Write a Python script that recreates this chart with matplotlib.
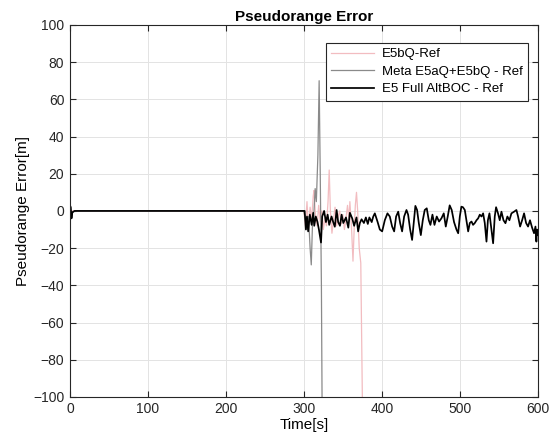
import numpy as np
import matplotlib
matplotlib.use("Agg")
import matplotlib.pyplot as plt

plt.rcParams['font.family'] = ['Liberation Sans', 'DejaVu Sans']

# E5 Full AltBOC - Ref (black)
t_full = [0, 1, 2, 3, 4, 6, 100, 200, 300, 301,
          302.6, 304, 305.5, 307.7, 310, 312, 313.3, 315.3, 317.5, 319.3, 320.5, 322,
          323.5, 326, 328.3, 330.5, 332.5, 335.5, 337.6, 339.7, 342, 344, 346.3, 348.4,
          350.6, 354, 357, 359, 362, 364.5, 367.5, 369.6, 371.8, 374, 377, 379.5, 382,
          384, 387, 389, 391, 394.4, 397.4, 400.4, 403.8, 407.2, 410.2, 413.2, 415.8,
          418.3, 421, 423.5, 426, 428.6, 431.6, 433.7, 436.3, 438.8, 441.4, 443, 445.2,
          447.4, 450, 452.5, 455, 457.6, 460.2, 462.3, 464.9, 467.5, 470.4, 473.4, 476.4,
          479.4, 482, 484.5, 487, 489.6, 492.6, 495.7, 497.9, 500, 502, 504, 506.4, 508.5,
          510.7, 512.8, 515, 517, 519.2, 521.4, 523.5, 525.6, 527.8, 529.9, 532, 534.2,
          536, 538, 540.6, 542.7, 544.8, 546.5, 549, 551.2, 553.4, 556, 558.5, 561,
          563.6, 566.2, 569.6, 572.6, 574.7, 577.3, 579.9, 582.4, 585, 587.5, 590, 592.7,
          595.2, 597, 598.2, 599, 600]
v_full = [3, 2, -4, -1, -0.5, 0, 0, 0, 0, 0,
          -10, -3, -11, -2, -7.5, -1, -8, -3, -6, -10, -13, -17,
          -3, 0, -6, -2, -7.5, -3, -6, -8.5, 0.5, -6, -8, -2, -6.5, -3.5, -9, -1, -4,
          -8, -3.5, -11, -6.5, -4.5, -6.5, -3.5, -7, -3.5, -6, -3, -1.3, -5.7, -10, -11,
          -5, -1.3, -3, -8.4, -11, -3, -0.4, -6.6, -11, -3, 0.5, -2, -10, -15.6, -4, 2.7,
          0.5, -6.5, -13, -5, 0.5, 1.4, -5, -7.5, -2, -7.5, -3, -5.7, -4, -1.3, -8.4,
          -3, 3, 0.5, -6, -10, -12, -3, 2.3, 2, 0.5, -5, -11, -6.5, -5.7, -7.5, -6.5,
          -5, -4, -2, -3, -1.3, -6.5, -16.5, -5, -1.3, -10, -17.4, -3, 2, -1.3, -5,
          -0.4, -5, -6.6, -3, -5, -1.3, -0.4, 0.5, -3, -8.4, -5, -1.3, -6.5, -8.4, -5,
          -9, -12, -8.4, -16.5, -10, -13]

# Meta E5aQ+E5bQ - Ref (grey)
t_meta = [0, 1, 2, 3, 4, 6, 100, 200, 300, 302, 304, 306, 308, 309.5, 311, 313,
          314.5, 316, 318, 319.6, 321, 322.5, 324]
v_meta = [3, 2, -4, -1, -0.5, 0, 0, 0, 0, -5, -10, -3, -20, -29, -8, 0,
          12, 5, 30, 70, 20, -40, -150]

# E5bQ-Ref (pink)
t_e5bq = [0, 6, 100, 200, 300, 302, 304, 306, 308, 310, 312, 313, 315, 317, 319,
          321, 323, 325, 327, 329, 331, 332.5, 334, 336, 338, 340, 342, 344, 346,
          348, 350, 352, 354, 356, 358, 359, 361, 363, 364.5, 366, 367.5, 369, 371,
          373, 375, 376]
v_e5bq = [0, 0, 0, 0, 0, -8, 5, -10, 2, -5, 8, 11, -3, -8, 3,
          -6, 0, -10, -4, -8, 5, 22, 0, -12, -5, 2, -8, -3, 0,
          -7, -2, -10, -4, 3, -5, 5, -8, -27, -10, 3, 10, 0, -20,
          -28, -100, -150]

labels = ["E5bQ-Ref", "Meta E5aQ+E5bQ - Ref", "E5 Full AltBOC - Ref"]
x_ticks = [0, 100, 200, 300, 400, 500, 600]
y_ticks = [-100, -80, -60, -40, -20, 0, 20, 40, 60, 80, 100]

fig = plt.figure(figsize=(5.55, 4.45), dpi=100)
ax = fig.add_axes([0.126, 0.108, 0.843, 0.836])

ax.plot(t_e5bq, v_e5bq, color='#f2bcc0', lw=0.9, label=labels[0])
ax.plot(t_meta, v_meta, color='#8a8a8a', lw=0.9, label=labels[1])
ax.plot(t_full, v_full, color='black', lw=1.25, label=labels[2])

ax.set_xlim(0, 600)
ax.set_ylim(-100, 100)
ax.set_xticks(x_ticks)
ax.set_yticks(y_ticks)
ax.tick_params(direction='in', top=True, right=True, labelsize=10, length=4,
               width=0.8, colors='#262626', pad=4)
ax.grid(True, color='#e3e3e3', lw=0.7)
ax.set_axisbelow(True)
for s in ax.spines.values():
    s.set_color('#262626')
    s.set_linewidth(0.8)

ax.set_title("Pseudorange Error", fontsize=11, fontweight='bold', pad=3)
ax.set_xlabel("Time[s]", fontsize=11, labelpad=1)
ax.set_ylabel("Pseudorange Error[m]", fontsize=11, labelpad=2)

leg = ax.legend(loc='upper right', bbox_to_anchor=(0.9786, 0.9516), fontsize=9.5,
                frameon=True, fancybox=False, edgecolor='#262626', framealpha=1,
                borderpad=0.4, labelspacing=0.4, handlelength=3.2, handletextpad=0.6,
                borderaxespad=0)
leg.get_frame().set_linewidth(0.8)

fig.savefig("out.png", dpi=100)
